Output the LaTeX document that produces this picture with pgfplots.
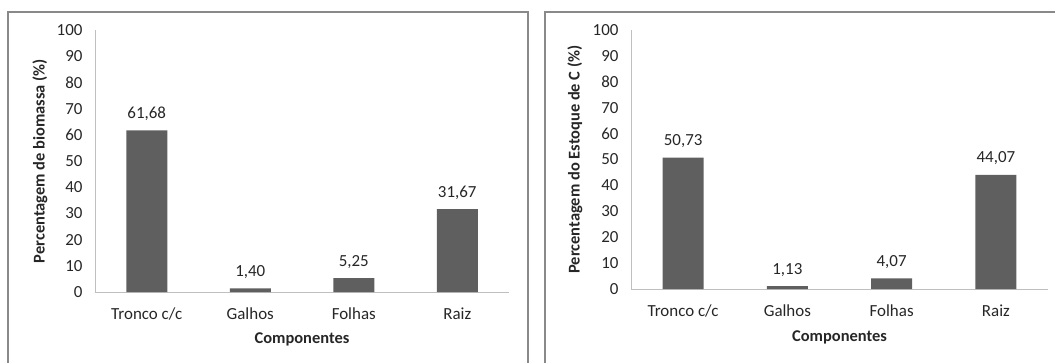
\documentclass[border=0pt]{standalone}
\usepackage{pgfplots}
\pgfplotsset{compat=1.18}
\usepackage{fontspec}
\setmainfont{Carlito}
\definecolor{barc}{HTML}{5F5F5F}
\definecolor{axc}{HTML}{BFBFBF}
\definecolor{frc}{HTML}{898989}
\definecolor{txc}{HTML}{262626}

\pgfplotsset{
  mybar/.style={
    scale only axis,
    anchor=south west,
    xmin=-0.5, xmax=3.5, ymin=0, ymax=100,
    ytick={0,10,...,100},
    xtick={0,1,2,3},
    xticklabels={Tronco c/c, Galhos, Folhas, Raiz},
    axis x line*=bottom, axis y line*=left,
    axis line style={draw=axc, line width=1bp, -},
    major tick length=0pt,
    /pgf/number format/assume math mode=true,
    tick label style={font=\fontsize{17}{20}\selectfont, text=txc},
    yticklabel style={anchor=east, xshift=-9bp},
    xticklabel style={anchor=base, yshift=-27bp},
    label style={font=\bfseries\fontsize{16.5}{20}\selectfont, text=txc},
    xlabel={Componentes},
    ybar, bar width=41bp,
    nodes near coords={\pgfmathprintnumber[fixed,fixed zerofill,precision=2,use comma]{\pgfplotspointmeta}},
    every node near coord/.append style={anchor=base, yshift=12bp, font=\fontsize{17}{20}\selectfont, text=txc},
  }
}

\begin{document}
\begin{tikzpicture}[x=1bp,y=1bp]
\useasboundingbox (0,0) rectangle (1055,362);
\begin{scope}
\clip (0,0) rectangle (1055,362);
\draw[frc, line width=1.5bp] (8,-10) -- (8,350) -- (528,350) -- (528,-10);
\draw[frc, line width=1.5bp] (545,-10) -- (545,350) -- (1070,350) -- (1070,-10);
\end{scope}

\begin{axis}[mybar, at={(95bp,70bp)}, width=414bp, height=262bp,
  ylabel={Percentagem de biomassa (\%)},
  ylabel style={at={(axis description cs:-0.1329,0.5)}, anchor=center},
  xlabel style={at={(axis description cs:0.5,-0.1794)}, anchor=center}]
\addplot[fill=barc, draw=none] coordinates {(0,61.68) (1,1.40) (2,5.25) (3,31.67)};
\end{axis}

\begin{axis}[mybar, at={(631bp,73bp)}, width=417bp, height=259bp,
  ylabel={Percentagem do Estoque de C (\%)},
  ylabel style={at={(axis description cs:-0.1343,0.5)}, anchor=center},
  xlabel style={at={(axis description cs:0.5,-0.1853)}, anchor=center}]
\addplot[fill=barc, draw=none] coordinates {(0,50.73) (1,1.13) (2,4.07) (3,44.07)};
\end{axis}
\end{tikzpicture}
\end{document}
